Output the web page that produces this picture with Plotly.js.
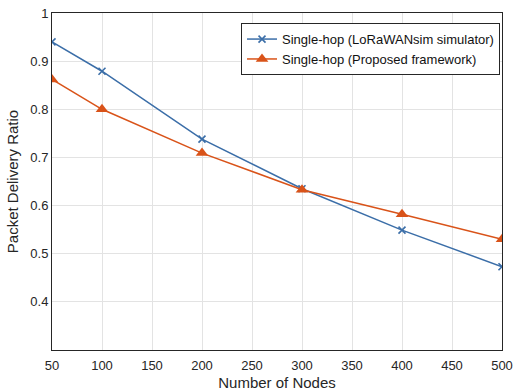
<!DOCTYPE html>
<html>
<head>
<meta charset="utf-8">
<script src="https://cdn.plot.ly/plotly-3.0.1.min.js"></script>
<style>html,body{margin:0;padding:0;background:#fff;}#chart{width:514px;height:392px;}</style>
</head>
<body>
<div id="chart"></div>
<script>
const nodes = [50, 100, 200, 300, 400, 500];
const simPDR = [0.940, 0.879, 0.738, 0.635, 0.549, 0.473];
const proposedPDR = [0.862, 0.800, 0.709, 0.633, 0.582, 0.530];
const seriesNames = ['Single-hop (LoRaWANsim simulator)', 'Single-hop (Proposed framework)'];
const xTicks = [50, 100, 150, 200, 250, 300, 350, 400, 450, 500];
const yTicks = [0.4, 0.5, 0.6, 0.7, 0.8, 0.9, 1];
const yTickText = ['0.4', '0.5', '0.6', '0.7', '0.8', '0.9', '1'];

const blue = '#3b6ea8';
const orange = '#d95319';

const traces = [
  {
    x: nodes, y: simPDR, name: seriesNames[0], type: 'scatter', mode: 'lines+markers',
    line: {color: blue, width: 1.5},
    marker: {symbol: 'x-thin', size: 7, color: blue, line: {color: blue, width: 1.6}}
  },
  {
    x: nodes, y: proposedPDR, name: seriesNames[1], type: 'scatter', mode: 'lines+markers',
    line: {color: orange, width: 1.5},
    marker: {symbol: 'triangle-up', size: 11, color: orange, line: {width: 0}}
  }
];

const fam = 'Liberation Sans, Arial, sans-serif';
const axisCommon = {
  showline: true, linecolor: '#262626', linewidth: 1, mirror: true,
  showgrid: true, gridcolor: '#e3e3e3', gridwidth: 1,
  zeroline: false, ticks: '',
  tickfont: {family: fam, size: 13, color: '#262626'}
};

const layout = {
  width: 514, height: 392,
  margin: {l: 52, r: 12, t: 13, b: 42},
  paper_bgcolor: '#fff', plot_bgcolor: '#fff',
  font: {family: fam, color: '#262626'},
  showlegend: true,
  legend: {
    x: 0.9956, xanchor: 'right', y: 0.970, yanchor: 'top',
    bgcolor: '#fff', bordercolor: '#262626', borderwidth: 1,
    font: {family: fam, size: 13, color: '#111'},
    tracegroupgap: 0, itemwidth: 30
  },
  xaxis: Object.assign({}, axisCommon, {
    range: [50, 500], tickvals: xTicks, ticktext: xTicks.map(String),
    ticklabelstandoff: 3,
    title: {text: 'Number of Nodes', font: {size: 15, color: '#262626'}, standoff: 5}
  }),
  yaxis: Object.assign({}, axisCommon, {
    range: [0.3, 1], tickvals: yTicks, ticktext: yTickText,
    title: {text: 'Packet Delivery Ratio', font: {size: 15, color: '#262626'}, standoff: 8}
  })
};

Plotly.newPlot('chart', traces, layout, {displayModeBar: false, staticPlot: true});
</script>
</body>
</html>
